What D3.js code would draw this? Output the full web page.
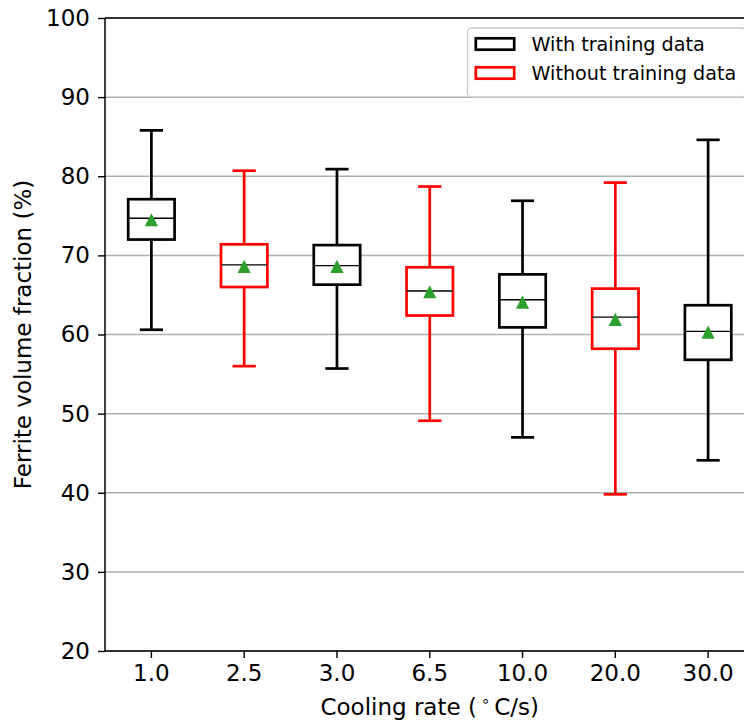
<!DOCTYPE html>
<html>
<head>
<meta charset="utf-8">
<script src="https://cdn.jsdelivr.net/npm/d3@7"></script>
<style>
  html, body { margin: 0; padding: 0; background: #fff; }
  svg { display: block; font-family: "DejaVu Sans", sans-serif; }
</style>
</head>
<body>
<svg id="chart" width="744" height="723"></svg>
<script>
// Cooling-rate categories and box statistics (ferrite volume fraction, %)
const categories   = ["1.0", "2.5", "3.0", "6.5", "10.0", "20.0", "30.0"];
const groups       = ["with", "without", "with", "without", "with", "without", "with"];
const whiskerLow   = [60.6, 56.0, 55.7, 49.1, 47.0, 39.8, 44.1];
const q1           = [72.0, 66.0, 66.3, 62.4, 60.9, 58.2, 56.8];
const median       = [74.7, 68.8, 68.7, 65.5, 64.4, 62.2, 60.4];
const q3           = [77.1, 71.4, 71.3, 68.5, 67.6, 65.8, 63.7];
const whiskerHigh  = [85.8, 80.7, 80.9, 78.7, 76.9, 79.2, 84.6];
const means        = [74.5, 68.6, 68.6, 65.4, 64.1, 61.9, 60.3];

const yTicks = [20, 30, 40, 50, 60, 70, 80, 90, 100];
const legendLabels = ["With training data", "Without training data"];
const groupColor = { with: "#000000", without: "#ff0000" };

const rows = categories.map((c, i) => ({
  cat: c, group: groups[i], lo: whiskerLow[i], q1: q1[i], med: median[i],
  q3: q3[i], hi: whiskerHigh[i], mean: means[i]
}));

const margin = { left: 105, top: 18 };
const plotW = 649.5, plotH = 633;
const fontSize = 23;
const svg = d3.select("#chart");
const g = svg.append("g").attr("transform", `translate(${margin.left},${margin.top})`);

const x = d3.scaleBand().domain(categories).range([0, plotW]).paddingInner(0).paddingOuter(0);
const y = d3.scaleLinear().domain([20, 100]).range([plotH, 0]);
const bw = x.bandwidth();
const boxW = bw * 0.5;
const capW = boxW * 0.5;

// horizontal grid
g.append("g").selectAll("line").data(yTicks).join("line")
  .attr("x1", 0).attr("x2", plotW)
  .attr("y1", d => y(d)).attr("y2", d => y(d))
  .attr("stroke", "#b0b0b0").attr("stroke-width", 1.5);

// boxes
const box = g.append("g").selectAll("g").data(rows).join("g")
  .attr("transform", d => `translate(${x(d.cat) + bw / 2},0)`);
const sw = 2.7;

box.append("line").attr("x1", 0).attr("x2", 0)
  .attr("y1", d => y(d.q3)).attr("y2", d => y(d.hi))
  .attr("stroke", d => groupColor[d.group]).attr("stroke-width", sw);
box.append("line").attr("x1", 0).attr("x2", 0)
  .attr("y1", d => y(d.q1)).attr("y2", d => y(d.lo))
  .attr("stroke", d => groupColor[d.group]).attr("stroke-width", sw);
box.append("line").attr("x1", -capW / 2).attr("x2", capW / 2)
  .attr("y1", d => y(d.hi)).attr("y2", d => y(d.hi))
  .attr("stroke", d => groupColor[d.group]).attr("stroke-width", sw);
box.append("line").attr("x1", -capW / 2).attr("x2", capW / 2)
  .attr("y1", d => y(d.lo)).attr("y2", d => y(d.lo))
  .attr("stroke", d => groupColor[d.group]).attr("stroke-width", sw);
box.append("rect")
  .attr("x", -boxW / 2).attr("width", boxW)
  .attr("y", d => y(d.q3)).attr("height", d => y(d.q1) - y(d.q3))
  .attr("fill", "#fff").attr("stroke", d => groupColor[d.group]).attr("stroke-width", sw);
box.append("line").attr("x1", -boxW / 2).attr("x2", boxW / 2)
  .attr("y1", d => y(d.med)).attr("y2", d => y(d.med))
  .attr("stroke", "#000").attr("stroke-width", 1.4);

// mean markers: upward triangles centred on their bounding box
const r = 6.6;
box.append("path")
  .attr("d", `M0,${-r}L${r},${r}L${-r},${r}Z`)
  .attr("transform", d => `translate(0,${y(d.mean)})`)
  .attr("fill", "#2ca02c");

// axes
const yAxis = g.append("g").call(d3.axisLeft(y).tickValues(yTicks).tickSize(7).tickPadding(8).tickFormat(d3.format("d")));
const xAxis = g.append("g").attr("transform", `translate(0,${plotH})`)
  .call(d3.axisBottom(x).tickSize(7).tickPadding(7));
[yAxis, xAxis].forEach(a => {
  a.select(".domain").remove();
  a.selectAll(".tick line").attr("stroke", "#000").attr("stroke-width", 1.4);
  a.selectAll(".tick text").attr("fill", "#000").attr("font-size", fontSize)
    .attr("font-family", "DejaVu Sans, sans-serif");
});

// spines
const spine = (x1, y1, x2, y2) => g.append("line").attr("x1", x1).attr("y1", y1).attr("x2", x2).attr("y2", y2)
  .attr("stroke", "#000").attr("stroke-width", 1.5);
spine(0, 0, 0, plotH);
spine(0, 0, plotW, 0);
spine(0, plotH, plotW, plotH);
spine(plotW, 0, plotW, plotH);

// axis titles
const xt = svg.append("text").attr("x", margin.left + plotW / 2).attr("y", 715)
  .attr("text-anchor", "middle").attr("font-size", fontSize).attr("fill", "#000")
  .attr("xml:space", "preserve");
xt.append("tspan").text("Cooling rate (");
xt.append("tspan").attr("font-size", 15).attr("dx", 4).attr("dy", -9).text("∘");
xt.append("tspan").attr("dx", 4).attr("dy", 9).text("C/s)");

svg.append("text")
  .attr("transform", `translate(31,${margin.top + plotH / 2}) rotate(-90)`)
  .attr("text-anchor", "middle").attr("font-size", fontSize).attr("fill", "#000")
  .text("Ferrite volume fraction (%)");

// legend
const legW = 278, legH = 69;
const lg = g.append("g").attr("transform", `translate(${plotW - 9 - legW},10)`);
lg.append("rect").attr("x", 0).attr("y", 0).attr("width", legW).attr("height", legH)
  .attr("rx", 4).attr("fill", "#fff").attr("fill-opacity", 0.8)
  .attr("stroke", "#cccccc").attr("stroke-width", 1.3);
["with", "without"].forEach((k, i) => {
  const row = lg.append("g").attr("transform", `translate(7,${9 + i * 29})`);
  row.append("rect").attr("x", 1.3).attr("y", 1.3).attr("width", 38.4).attr("height", 11.4)
    .attr("fill", "none").attr("stroke", groupColor[k]).attr("stroke-width", sw);
  row.append("text").attr("x", 57).attr("y", 13.5).attr("font-size", 19.2).attr("fill", "#000")
    .text(legendLabels[i]);
});
</script>
</body>
</html>
